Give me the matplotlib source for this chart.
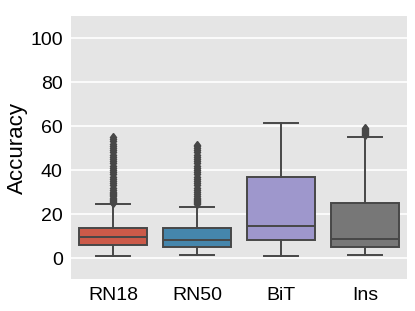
import colorsys
import matplotlib
matplotlib.use("Agg")
import matplotlib.pyplot as plt
import matplotlib.colors as mcolors

plt.style.use("ggplot")
plt.rcParams['font.family'] = ['Liberation Sans', 'DejaVu Sans']

categories = ["RN18", "RN50", "BiT", "Ins"]
base_colors = ["#E24A33", "#348ABD", "#988ED5", "#777777"]
q1 = [5.8, 5.1, 8.2, 5.0]
med = [9.7, 8.3, 14.5, 8.5]
q3 = [13.8, 13.8, 36.7, 25.1]
whislo = [1.0, 1.4, 0.9, 1.5]
whishi = [24.5, 23.3, 61.4, 55.2]
fliers_rn18 = [25, 25.5, 26, 26.5, 27, 27.5, 28, 28.5, 29, 29.5, 30, 31, 32, 33, 34, 35, 36, 37,
               38, 39, 40, 41, 42, 43, 44, 45, 46, 47, 48, 49, 50, 51, 52, 53, 54, 54.8]
fliers_rn50 = [24.5, 25, 25.5, 26, 26.5, 27, 27.5, 28, 29, 30, 31, 32, 33, 34, 35, 36, 37, 38,
               39, 40, 41, 42, 43, 44, 45, 46, 47, 48, 49, 50, 50.8, 51.5]
fliers_bit = []
fliers_ins = [55.8, 56.3, 56.8, 57.3, 57.8, 58.3, 58.8, 59.3]
fliers = [fliers_rn18, fliers_rn50, fliers_bit, fliers_ins]


def desat(c, prop=0.75):
    r, g, b = mcolors.to_rgb(c)
    h, l, s = colorsys.rgb_to_hls(r, g, b)
    return colorsys.hls_to_rgb(h, l, s * prop)


colors = [desat(c) for c in base_colors]
line_color = "#474747"

fig = plt.figure(figsize=(4.15, 3.11), dpi=100)
ax = fig.add_axes([71 / 415, 32 / 311, 336 / 415, 263 / 311])
ax.set_facecolor("#E5E5E5")

stats = []
for i, name in enumerate(categories):
    stats.append(dict(label=name, q1=q1[i], med=med[i], q3=q3[i],
                      whislo=whislo[i], whishi=whishi[i], fliers=fliers[i]))

lw = 1.4
bp = ax.bxp(stats, positions=range(len(categories)), widths=0.8, patch_artist=True,
            boxprops=dict(edgecolor=line_color, linewidth=lw),
            medianprops=dict(color=line_color, linewidth=lw),
            whiskerprops=dict(color=line_color, linewidth=lw),
            capprops=dict(color=line_color, linewidth=lw),
            flierprops=dict(marker="d", markerfacecolor=line_color, markeredgecolor=line_color,
                            markersize=4.5))
for patch, c in zip(bp["boxes"], colors):
    patch.set_facecolor(c)
for cap in bp["caps"]:
    x = cap.get_xdata()
    mid = (x[0] + x[1]) / 2
    cap.set_xdata([mid - 0.2, mid + 0.2])

ax.set_xlim(-0.5, 3.5)
ax.set_ylim(-9.5, 110)
ax.set_yticks([0, 20, 40, 60, 80, 100])
ax.set_xticks(range(len(categories)))
ax.set_xticklabels(categories)
ax.tick_params(axis="both", labelsize=14, colors="black", length=0, pad=6)
ax.set_ylabel("Accuracy", fontsize=16, color="black", labelpad=1.5)
ax.grid(True, axis="y", color="white", linewidth=1.2)
ax.grid(False, axis="x")
for s in ax.spines.values():
    s.set_visible(False)

fig.savefig("out.png", dpi=100)
